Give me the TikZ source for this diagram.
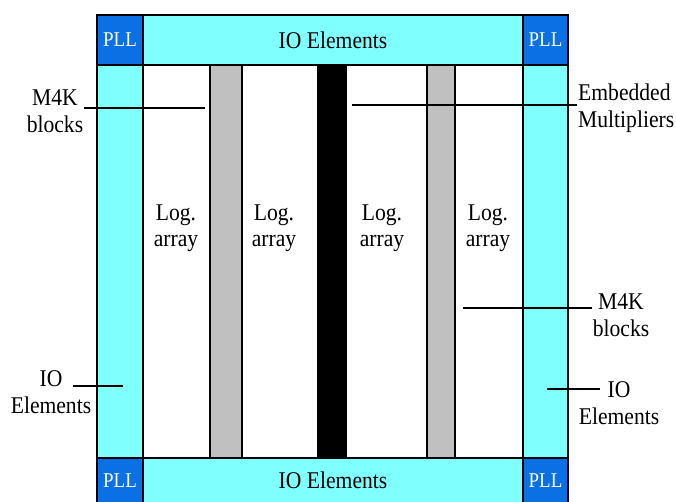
\documentclass[tikz,border=0pt]{standalone}
\usepackage{fontspec}
\setmainfont[FakeStretch=0.9]{Liberation Serif}
\definecolor{iocyan}{HTML}{80FFFF}
\definecolor{pllblue}{HTML}{0A70E4}
\definecolor{m4kgray}{HTML}{C0C0C0}
\begin{document}
\begin{tikzpicture}[x=1pt,y=-1pt,
  box/.style={draw=black,line width=1.3pt},
  lbl/.style={font=\fontsize{24}{26.5}\selectfont,align=center,inner sep=0pt},
  plltxt/.style={font=\fontsize{21}{24}\selectfont,text=white,inner sep=0pt},
  leader/.style={draw=black,line width=1.2pt}]
\useasboundingbox (0,0) rectangle (676,502);
% logic area
\fill[white] (143,65) rectangle (523,458);
% IO bars
\draw[box,fill=iocyan] (143,15) rectangle (523,65);
\draw[box,fill=iocyan] (143,458) rectangle (523,503);
\draw[box,fill=iocyan] (97,65) rectangle (143,458);
\draw[box,fill=iocyan] (523,65) rectangle (568,458);
% PLL
\draw[box,fill=pllblue] (97,15) rectangle (143,65);
\draw[box,fill=pllblue] (523,15) rectangle (568,65);
\draw[box,fill=pllblue] (97,458) rectangle (143,503);
\draw[box,fill=pllblue] (523,458) rectangle (568,503);
% columns
\draw[box,fill=m4kgray] (210,65) rectangle (242,458);
\draw[box,fill=black] (318,65) rectangle (346,458);
\draw[box,fill=m4kgray] (427,65) rectangle (455,458);
% texts
\node[plltxt] (pll1) at (120,40) {PLL};
\node[plltxt] (pll2) at (545.5,40) {PLL};
\node[plltxt] (pll3) at (120,481) {PLL};
\node[plltxt] (pll4) at (545.5,481) {PLL};
\node[lbl] (iotop) at (333,40) {IO Elements};
\node[lbl] (iobot) at (333,480) {IO Elements};
\node[lbl] (la1) at (176,228) {Log.\\array};
\node[lbl] (la2) at (274,228) {Log.\\array};
\node[lbl] (la3) at (382,228) {Log.\\array};
\node[lbl] (la4) at (488,228) {Log.\\array};
\node[lbl] (m4kL) at (55,111) {M4K\\blocks};
\node[lbl,align=left,anchor=west] (emb) at (578,108) {Embedded\\Multipliers};
\node[lbl] (m4kR) at (621,315) {M4K\\blocks};
\node[lbl] (ioL) at (51,392) {IO\\Elements};
\node[lbl] (ioR) at (619,403) {IO\\Elements};
% leader lines
\coordinate (m4kLa) at (84,108); \coordinate (m4kLb) at (205,108);
\coordinate (emba) at (352,105); \coordinate (embb) at (577,105);
\coordinate (m4kRa) at (463,308); \coordinate (m4kRb) at (592,308);
\coordinate (ioLa) at (73,386); \coordinate (ioLb) at (123,386);
\coordinate (ioRa) at (547,389); \coordinate (ioRb) at (600,389);
\draw[leader] (m4kLa) -- (m4kLb);
\draw[leader] (emba) -- (embb);
\draw[leader] (m4kRa) -- (m4kRb);
\draw[leader] (ioLa) -- (ioLb);
\draw[leader] (ioRa) -- (ioRb);
\end{tikzpicture}
\end{document}
